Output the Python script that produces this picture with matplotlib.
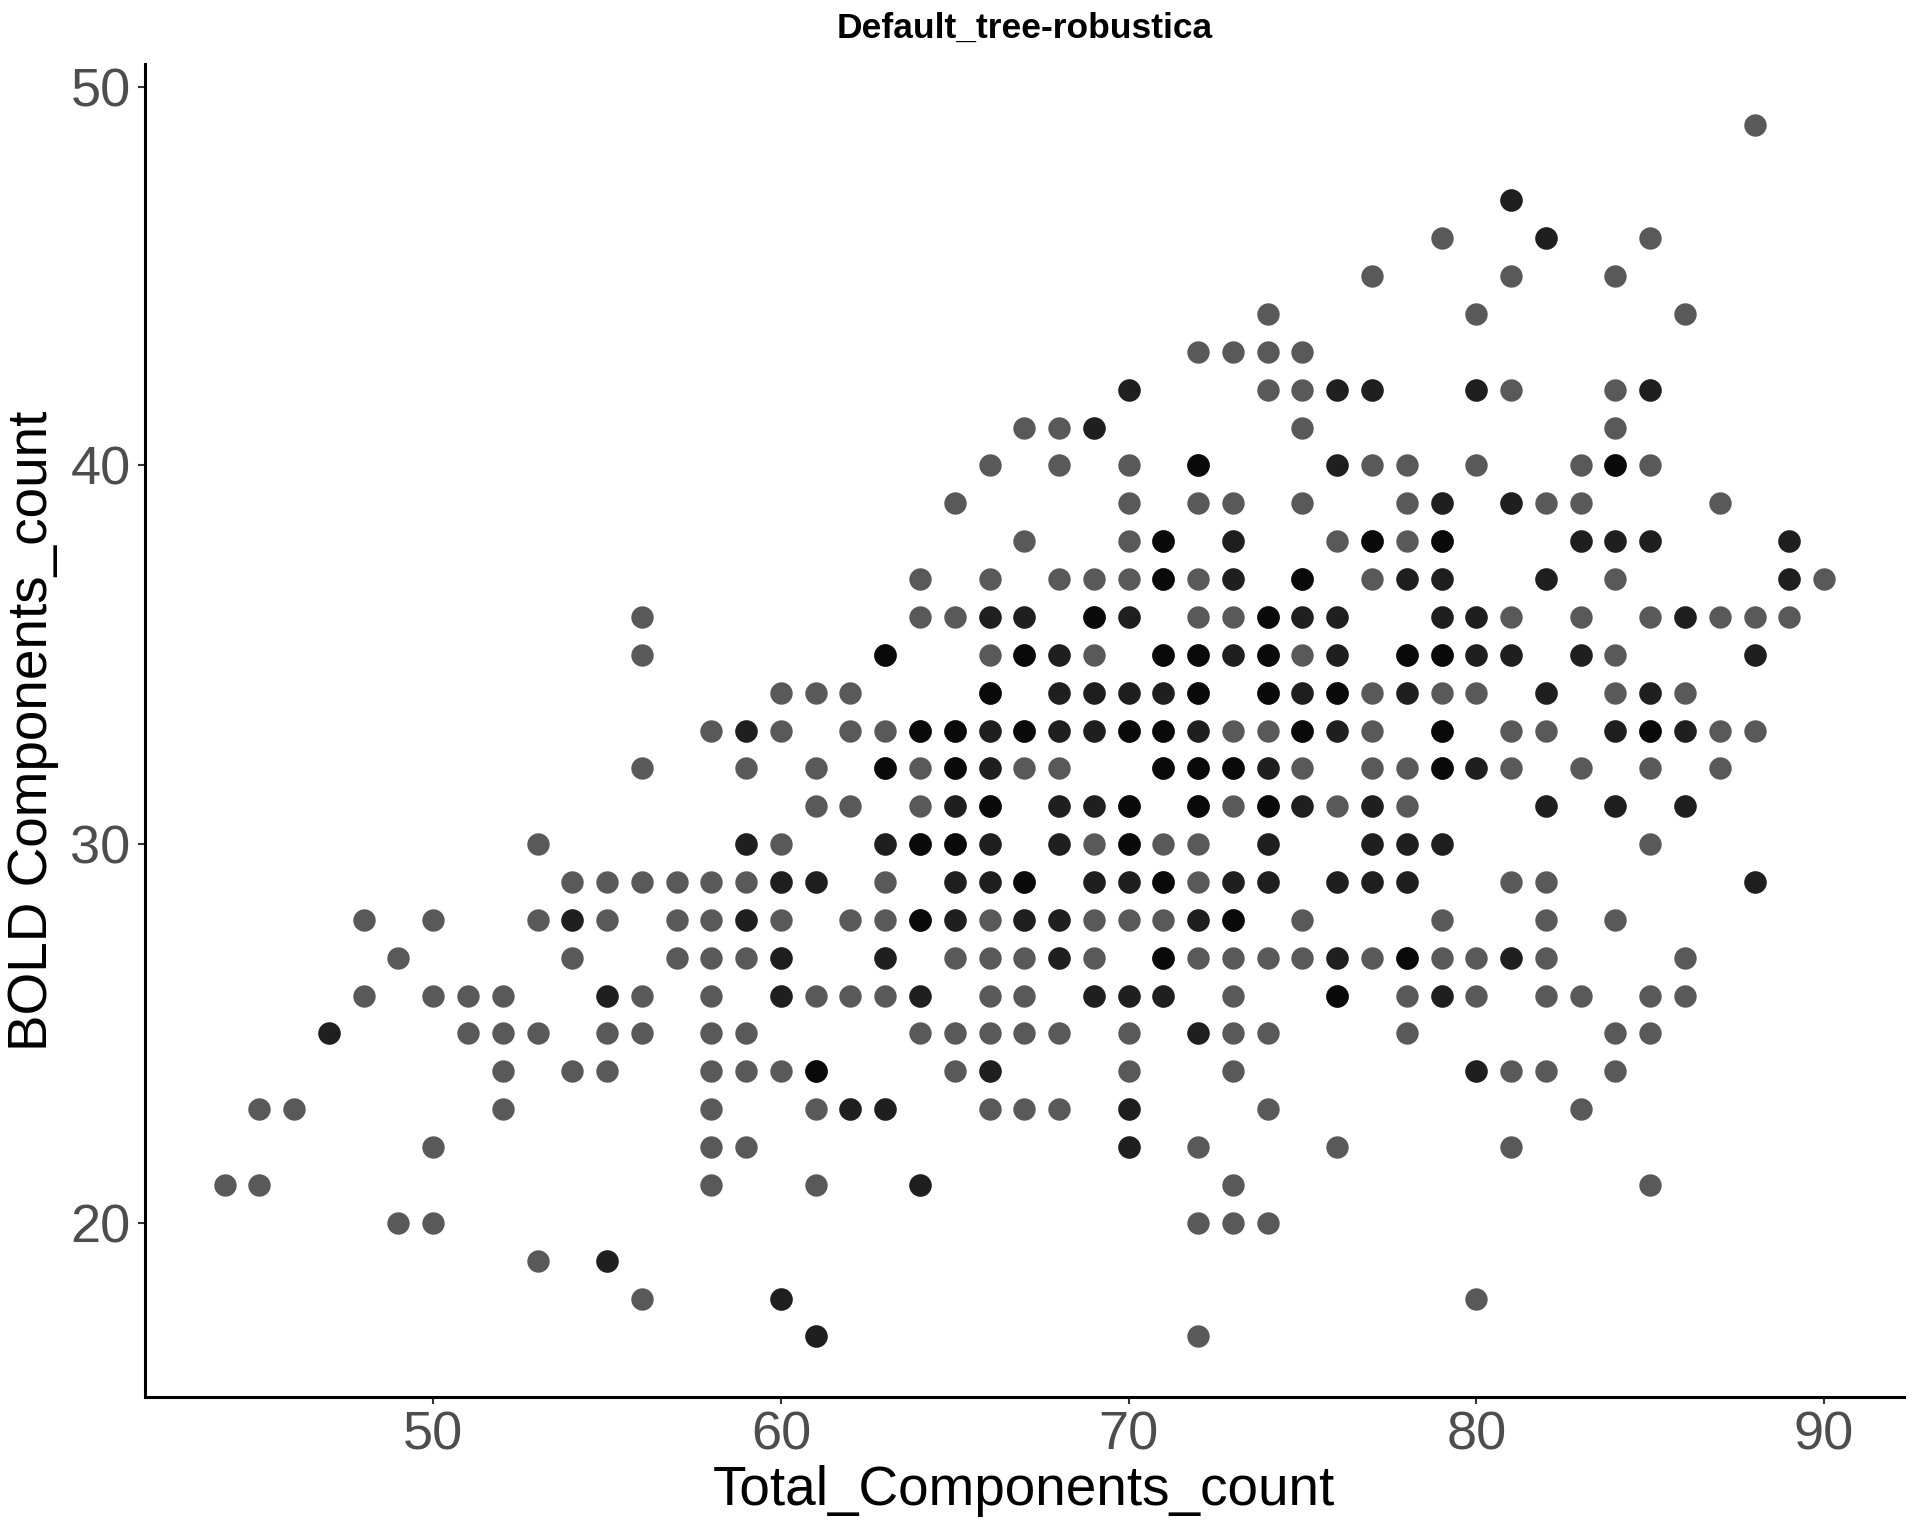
import numpy as np
import matplotlib
matplotlib.use("Agg")
import matplotlib.pyplot as plt

plt.rcParams['font.family'] = ['Liberation Sans', 'DejaVu Sans']

title = "Default_tree-robustica"
x_label = "Total_Components_count"
y_label = "BOLD Components_count"

# Each entry: total components (x), BOLD components (y), number of overlapping observations
total_x = [
    88,                                                   # y=49
    81,                                                   # y=47
    79, 82, 85,                                           # y=46
    77, 81, 84,                                           # y=45
    74, 80, 86,                                           # y=44
    72, 73, 74, 75,                                       # y=43
    70, 74, 75, 76, 77, 80, 81, 84, 85,                   # y=42
    67, 68, 69, 75, 84,                                   # y=41
    66, 68, 70, 72, 76, 77, 78, 80, 83, 84, 85,           # y=40
    65, 70, 72, 73, 75, 78, 79, 81, 82, 83, 87,           # y=39
    67, 70, 71, 73, 76, 77, 78, 79, 83, 84, 85, 89,       # y=38
    64, 66, 68, 69, 70, 71, 72, 73, 75, 77, 78, 79, 82, 84, 89, 90,   # y=37
    56, 64, 65, 66, 67, 69, 70, 72, 73, 74, 75, 76, 79, 80, 81, 83, 85, 86, 87, 88, 89,  # y=36
    56, 63, 66, 67, 68, 69, 71, 72, 73, 74, 75, 76, 78, 79, 80, 81, 83, 84, 88,  # y=35
    60, 61, 62, 66, 68, 69, 70, 71, 72, 74, 75, 76, 77, 78, 79, 80, 82, 84, 85, 86,  # y=34
    58, 59, 60, 62, 63, 64, 65, 66, 67, 68, 69, 70, 71, 72, 73, 74, 75, 76, 77, 79, 81, 82, 84, 85, 86, 87, 88,  # y=33
    56, 59, 61, 63, 64, 65, 66, 67, 68, 71, 72, 73, 74, 75, 77, 78, 79, 80, 81, 83, 85, 87,  # y=32
    61, 62, 64, 65, 66, 68, 69, 70, 72, 73, 74, 75, 76, 77, 78, 82, 84, 86,  # y=31
    53, 59, 60, 63, 64, 65, 66, 68, 69, 70, 71, 72, 74, 77, 78, 79, 85,  # y=30
    54, 55, 56, 57, 58, 59, 60, 61, 63, 65, 66, 67, 69, 70, 71, 72, 73, 74, 76, 77, 78, 81, 82, 88,  # y=29
    48, 50, 53, 54, 55, 57, 58, 59, 60, 62, 63, 64, 65, 66, 67, 68, 69, 70, 71, 72, 73, 75, 79, 82, 84,  # y=28
    49, 54, 57, 58, 59, 60, 63, 65, 66, 67, 68, 69, 71, 72, 73, 74, 75, 76, 77, 78, 79, 80, 81, 82, 86,  # y=27
    48, 50, 51, 52, 55, 56, 58, 60, 61, 62, 63, 64, 66, 67, 69, 70, 71, 73, 76, 78, 79, 80, 82, 83, 85, 86,  # y=26
    47, 51, 52, 53, 55, 56, 58, 59, 64, 65, 66, 67, 68, 70, 72, 73, 74, 78, 84, 85,  # y=25
    52, 54, 55, 58, 59, 60, 61, 65, 66, 70, 73, 80, 81, 82, 84,  # y=24
    45, 46, 52, 58, 61, 62, 63, 66, 67, 68, 70, 74, 83,   # y=23
    50, 58, 59, 70, 72, 76, 81,                           # y=22
    44, 45, 58, 61, 64, 73, 85,                           # y=21
    49, 50, 72, 73, 74,                                   # y=20
    53, 55,                                               # y=19
    56, 60, 80,                                           # y=18
    61, 72,                                               # y=17
]

bold_y = (
    [49] * 1 + [47] * 1 + [46] * 3 + [45] * 3 + [44] * 3 + [43] * 4 + [42] * 9 +
    [41] * 5 + [40] * 11 + [39] * 11 + [38] * 12 + [37] * 16 + [36] * 21 +
    [35] * 19 + [34] * 20 + [33] * 27 + [32] * 22 + [31] * 18 + [30] * 17 +
    [29] * 24 + [28] * 25 + [27] * 25 + [26] * 26 + [25] * 20 + [24] * 15 +
    [23] * 13 + [22] * 7 + [21] * 7 + [20] * 5 + [19] * 2 + [18] * 3 + [17] * 2
)

overlap_n = [
    1,
    2,
    1, 2, 1,
    1, 1, 1,
    1, 1, 1,
    1, 1, 1, 1,
    2, 1, 1, 2, 2, 2, 1, 1, 2,
    1, 1, 2, 1, 1,
    1, 1, 1, 3, 2, 1, 1, 1, 1, 3, 1,
    1, 1, 1, 1, 1, 1, 2, 2, 1, 1, 1,
    1, 1, 3, 2, 1, 3, 1, 3, 2, 2, 2, 2,
    1, 1, 1, 1, 1, 3, 1, 2, 3, 1, 2, 2, 2, 1, 2, 1,
    1, 1, 1, 2, 2, 3, 2, 1, 1, 3, 2, 2, 2, 2, 1, 1, 1, 2, 1, 1, 1,
    1, 3, 1, 3, 2, 1, 3, 3, 2, 3, 1, 2, 3, 3, 2, 2, 2, 1, 2,
    1, 1, 1, 3, 2, 2, 2, 2, 3, 3, 2, 3, 1, 2, 1, 1, 2, 1, 2, 1,
    1, 2, 1, 1, 1, 3, 3, 2, 3, 2, 2, 3, 3, 2, 1, 1, 3, 2, 1, 3, 1, 1, 2, 3, 2, 1, 1,
    1, 1, 1, 3, 1, 3, 2, 1, 1, 3, 3, 3, 2, 1, 1, 1, 3, 2, 1, 1, 1, 1,
    1, 1, 1, 2, 3, 2, 2, 3, 3, 1, 3, 2, 1, 2, 1, 2, 2, 2,
    1, 2, 1, 2, 3, 3, 2, 2, 1, 3, 1, 1, 2, 2, 2, 2, 1,
    1, 1, 1, 1, 1, 1, 2, 2, 1, 2, 2, 3, 2, 2, 3, 1, 2, 2, 2, 2, 2, 1, 1, 2,
    1, 1, 1, 2, 1, 1, 1, 2, 1, 1, 1, 3, 2, 1, 2, 2, 1, 1, 1, 2, 3, 1, 1, 1, 1,
    1, 1, 1, 1, 1, 2, 2, 1, 1, 1, 2, 1, 3, 1, 1, 1, 1, 2, 1, 3, 1, 1, 2, 1, 1,
    1, 1, 1, 1, 2, 1, 1, 2, 1, 1, 1, 2, 1, 1, 2, 2, 2, 1, 3, 1, 2, 1, 1, 1, 1, 1,
    2, 1, 1, 1, 1, 1, 1, 1, 1, 1, 1, 1, 1, 1, 2, 1, 1, 1, 1, 1,
    1, 1, 1, 1, 1, 1, 3, 1, 2, 1, 1, 2, 1, 1, 1,
    1, 1, 1, 1, 1, 2, 2, 1, 1, 1, 2, 1, 1,
    1, 1, 1, 2, 1, 1, 1,
    1, 1, 1, 1, 2, 1, 1,
    1, 1, 1, 1, 1,
    1, 2,
    1, 2, 1,
    2, 1,
]

x_ticks = [50, 60, 70, 80, 90]
y_ticks = [20, 30, 40, 50]

xs = np.repeat(np.array(total_x), overlap_n)
ys = np.repeat(np.array(bold_y), overlap_n)

fig = plt.figure(figsize=(19.2, 15.36), dpi=100)
ax = fig.add_axes([0.0753, 0.0905, 0.9164, 0.8678])

ax.scatter(xs, ys, s=260, color='black', alpha=0.65, linewidths=0)

xmin, xmax = min(total_x), max(total_x)
ymin, ymax = min(bold_y), max(bold_y)
xr, yr = xmax - xmin, ymax - ymin
ax.set_xlim(xmin - 0.05 * xr, xmax + 0.05 * xr)
ax.set_ylim(ymin - 0.05 * yr, ymax + 0.05 * yr)

ax.set_xticks(x_ticks)
ax.set_yticks(y_ticks)
ax.tick_params(axis='both', labelsize=39, labelcolor='#4D4D4D', color='#333333',
               length=5, width=1.5, pad=5)

for side in ['top', 'right']:
    ax.spines[side].set_visible(False)
for side in ['left', 'bottom']:
    ax.spines[side].set_linewidth(2.2)
    ax.spines[side].set_color('black')

ax.set_xlabel(x_label, fontsize=39.5, color='black', labelpad=3)
ax.set_ylabel(y_label, fontsize=39.5, color='black', labelpad=8)
ax.set_title(title, fontsize=25.5, fontweight='bold', pad=19)

fig.savefig("out.png", dpi=100, facecolor='white')
